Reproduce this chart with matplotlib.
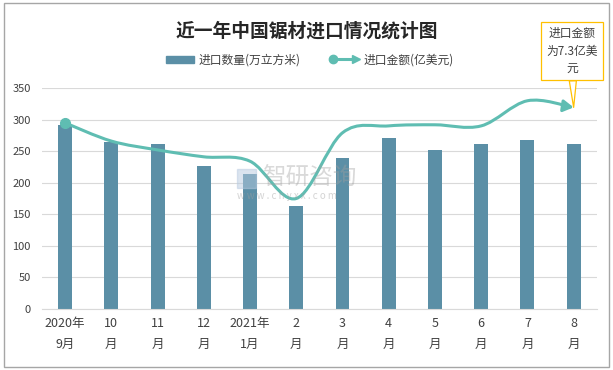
#import libraries
import numpy as np
import matplotlib
matplotlib.use('Agg')
import matplotlib.pyplot as plt
from matplotlib.path import Path
from matplotlib.patches import FancyArrowPatch, Rectangle, Patch
from matplotlib.lines import Line2D
from matplotlib.legend_handler import HandlerBase

plt.rcParams['font.family'] = ['Noto Sans CJK SC', 'DejaVu Sans']

# data
months = ['2020年\n9月', '10\n月', '11\n月', '12\n月', '2021年\n1月', '2\n月',
          '3\n月', '4\n月', '5\n月', '6\n月', '7\n月', '8\n月']
volume = [291, 265, 262, 227, 214, 163, 239, 271, 252, 262, 268, 262]   # 万立方米
amount = [6.74, 6.08, 5.76, 5.51, 5.35, 4.0, 6.38, 6.63, 6.67, 6.63, 7.54, 7.3]  # 亿美元

bar_color = '#5b8fa6'
line_color = '#5fbdb2'
text_color = '#404040'


###############################################################################
#smoothed path like the spreadsheet "smooth line" option
def smooth_path(x, y):
    pts = np.column_stack([x, y]).astype(float)
    n = len(pts)
    verts = [pts[0]]
    codes = [Path.MOVETO]
    for i in range(n - 1):
        p0 = pts[max(i - 1, 0)]
        p1 = pts[i]
        p2 = pts[i + 1]
        p3 = pts[min(i + 2, n - 1)]
        c1 = p1 + (p2 - p0) / 6.0
        c2 = p2 - (p3 - p1) / 6.0
        verts += [c1, c2, p2]
        codes += [Path.CURVE4] * 3
    return Path(verts, codes)


class ArrowLineHandler(HandlerBase):
    def create_artists(self, legend, orig_handle, xdescent, ydescent,
                       width, height, fontsize, trans):
        y = height / 2 - ydescent
        line = Line2D([-xdescent + 2, width - xdescent - 3], [y, y],
                      color=line_color, lw=2.2, transform=trans)
        dot = Line2D([-xdescent + 2], [y], marker='o', ms=6,
                     color=line_color, transform=trans)
        tip = Line2D([width - xdescent - 2], [y], marker='>', ms=6,
                     color=line_color, transform=trans)
        return [line, dot, tip]


###############################################################################
fig = plt.figure(figsize=(6.13, 3.70), dpi=100)
ax = fig.add_axes([0.0685, 0.165, 0.905, 0.597])
x = np.arange(len(months))

ax.bar(x, volume, width=0.3, color=bar_color, zorder=2)
ax.set_xlim(-0.5, len(months) - 0.5)
ax.set_ylim(0, 350)
ax.set_yticks(range(0, 351, 50))
ax.set_xticks(x)
ax.set_xticklabels(months, fontsize=9, color=text_color, linespacing=1.75)
ax.tick_params(axis='y', labelsize=8, colors=text_color, length=0, pad=8)
ax.tick_params(axis='x', length=0, pad=6)
ax.grid(axis='y', color='#d9d9d9', lw=0.8, zorder=0)
for s in ['top', 'right', 'left']:
    ax.spines[s].set_visible(False)
ax.spines['bottom'].set_color('#d9d9d9')

#secondary axis for 进口金额, hidden
ax2 = ax.twinx()
ax2.set_ylim(0, 8)
ax2.set_yticks([])
for s in ax2.spines.values():
    s.set_visible(False)

curve = FancyArrowPatch(path=smooth_path(x, amount),
                        arrowstyle='-|>,head_length=6,head_width=3.5',
                        color=line_color, lw=2.2, transform=ax2.transData,
                        zorder=4)
ax2.add_patch(curve)
ax2.plot(x[0], amount[0], 'o', color=line_color, ms=7, zorder=5)

#watermark
fig.text(0.428, 0.518, '智研咨询', fontsize=17, color='#a0a0a0', alpha=0.4,
         ha='left', va='center')
fig.text(0.387, 0.47, 'w w w . c h y x x . c o m', fontsize=7,
         color='#a0a0a0', alpha=0.45, ha='left', va='center')
fig.patches.append(Rectangle((0.387, 0.492), 0.03, 0.052, transform=fig.transFigure,
                             color='#b8cbe0', alpha=0.5))

#callout
ax2.annotate('进口金额\n为7.3亿美\n元', xy=(x[-1], amount[-1]),
             xytext=(0.933, 0.862), textcoords='figure fraction',
             ha='center', va='center', fontsize=8.5, color=text_color,
             linespacing=1.45, annotation_clip=False,
             bbox=dict(boxstyle='square,pad=0.45', fc='white', ec='#ffc000', lw=0.9),
             arrowprops=dict(arrowstyle='wedge,tail_width=0.6', fc='white',
                             ec='#ffc000', lw=0.9, shrinkA=0, shrinkB=0))

#title and legend
fig.text(0.50, 0.915, '近一年中国锯材进口情况统计图', fontsize=13.5,
         fontweight='bold', color='#262626', ha='center', va='center')
handles = [Patch(color=bar_color), Line2D([], [], color=line_color)]
fig.legend(handles, ['进口数量(万立方米)', '进口金额(亿美元)'],
           handler_map={Line2D: ArrowLineHandler()},
           loc='center', bbox_to_anchor=(0.505, 0.838), ncol=2, frameon=False,
           fontsize=8.5, labelcolor=text_color, handlelength=2.4,
           handleheight=0.6, columnspacing=2.5, handletextpad=0.4)

#outer border
fig.patches.append(Rectangle((0.007, 0.008), 0.986, 0.984, transform=fig.transFigure,
                             fill=False, ec='#a6a6a6', lw=1.0))

fig.savefig('out.png', dpi=100)
